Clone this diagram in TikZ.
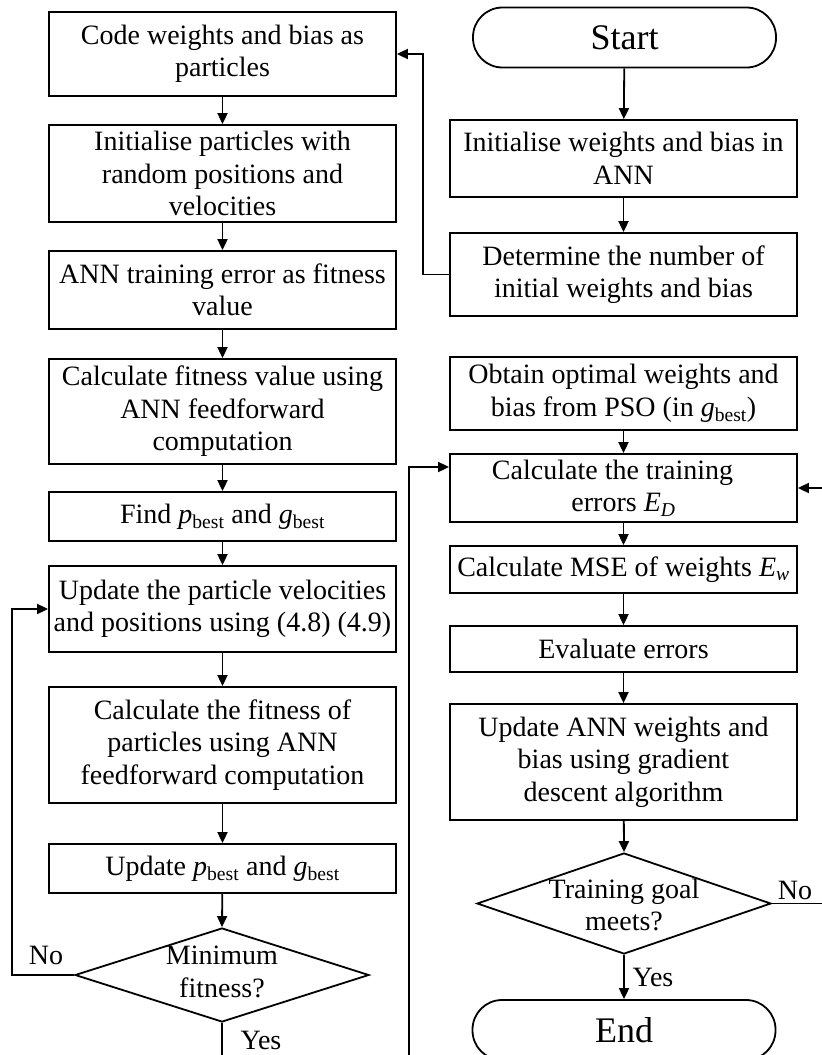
\documentclass[tikz,border=0pt]{standalone}
\usepackage{fontspec}
\setmainfont{Liberation Serif}
\usetikzlibrary{shapes.geometric,arrows.meta}
\begin{document}
\begin{tikzpicture}[x=1pt,y=-1pt,
  every node/.style={inner sep=0pt},
  txt/.style={font=\fontsize{28}{32.5}\selectfont, align=center},
  box/.style={txt, draw, line width=1.8pt, minimum width=347pt},
  term/.style={draw, line width=1.8pt, rounded corners=29.5pt, minimum width=303pt,
    minimum height=60pt, font=\fontsize{36}{40}\selectfont},
  dia/.style={draw, diamond, line width=1.8pt, minimum width=294pt},
  lab/.style={font=\fontsize{28}{32}\selectfont},
  arr/.style={line width=1.8pt, -{Triangle[length=11pt,width=10pt]}}]
\useasboundingbox (0,0) rectangle (822,1055);
\clip (0,0) rectangle (822,1055);

% left column: PSO stage
\node[box, minimum height=84pt]  (L1) at (222.5,54)    {Code weights and bias as\\particles};
\node[box, minimum height=97pt]  (L2) at (222.5,173.5) {Initialise particles with\\random positions and\\velocities};
\node[box, minimum height=78pt]  (L3) at (222.5,290)   {ANN training error as fitness\\value};
\node[box, minimum height=105pt] (L4) at (222.5,411.5) {Calculate fitness value using\\ANN feedforward\\computation};
\node[box, minimum height=49pt]  (L5) at (222.5,516.5) {Find \textit{p}\textsubscript{best} and \textit{g}\textsubscript{best}};
\node[box, minimum height=86pt]  (L6) at (222.5,609)   {Update the particle velocities\\and positions using (4.8) (4.9)};
\node[box, minimum height=116pt] (L7) at (222.5,745)   {Calculate the fitness of\\particles using ANN\\feedforward computation};
\node[box, minimum height=49pt]  (L8) at (222.5,868.5) {Update \textit{p}\textsubscript{best} and \textit{g}\textsubscript{best}};
\node[dia, minimum height=94pt]  (D1) at (222,975) {};
\node[txt] (D1t) at (222,972) {Minimum\\fitness?};

% right column: ANN stage
\node[term] (S) at (624.5,37.5) {Start};
\node[box, minimum height=77pt]  (R1) at (623.5,158.5) {Initialise weights and bias in\\ANN};
\node[box, minimum height=83pt]  (R2) at (623.5,274.5) {Determine the number of\\initial weights and bias};
\node[box, minimum height=73pt]  (R3) at (623.5,393.5) {Obtain optimal weights and\\bias from PSO (in \textit{g}\textsubscript{best})};
\node[box, minimum height=68pt]  (R4) at (623.5,488)   {Calculate the training\hspace*{22pt}\\errors \textit{E}\textsubscript{\textit{D}}};
\node[box, minimum height=47pt]  (R5) at (623.5,569.5) {Calculate MSE of weights \textit{E}\textsubscript{\textit{w}}};
\node[box, minimum height=46pt]  (R6) at (623.5,649)   {Evaluate errors};
\node[box, minimum height=116pt] (R7) at (623.5,762)   {Update ANN weights and\\bias using gradient\\descent algorithm};
\node[dia, minimum height=101pt] (D2) at (624,903.5) {};
\node[txt] (D2t) at (624,905) {Training goal\\meets?};
\node[term] (E) at (624,1030) {End};

% branch labels
\node[lab] (noL)  at (46,955)   {No};
\node[lab] (yesL) at (261,1040) {Yes};
\node[lab] (noR)  at (795,890)  {No};
\node[lab] (yesR) at (653,977)  {Yes};

% turning points of the loops
\coordinate (xt) at (423,0);
\coordinate (xl) at (12,0);
\coordinate (yb) at (0,1075);
\coordinate (xv) at (409,467);
\coordinate (xr) at (840,0);

% main flow
\draw[arr] (L1) -- (L2);
\draw[arr] (L2) -- (L3);
\draw[arr] (L3) -- (L4);
\draw[arr] (L4) -- (L5);
\draw[arr] (L5) -- (L6);
\draw[arr] (L6) -- (L7);
\draw[arr] (L7) -- (L8);
\draw[arr] (L8) -- (D1.north);
\draw[arr] (S) -- (R1);
\draw[arr] (R1) -- (R2);
\draw[arr] (R3) -- (R4);
\draw[arr] (R4) -- (R5);
\draw[arr] (R5) -- (R6);
\draw[arr] (R6) -- (R7);
\draw[arr] (R7) -- (D2.north);
\draw[arr] (D2.south) -- (E);

% loops
\draw[arr] (R2.west) -- (R2.west -| xt) |- (L1.east);
\draw[arr] (D1.west) -- (D1.west -| xl) |- (L6.west);
\draw[arr] (D1.south) -- (D1.south |- yb) -| (xv) -- (xv -| R4.west);
\draw[arr] (D2.east) -- (D2.east -| xr) |- (R4.east);
\end{tikzpicture}
\end{document}
